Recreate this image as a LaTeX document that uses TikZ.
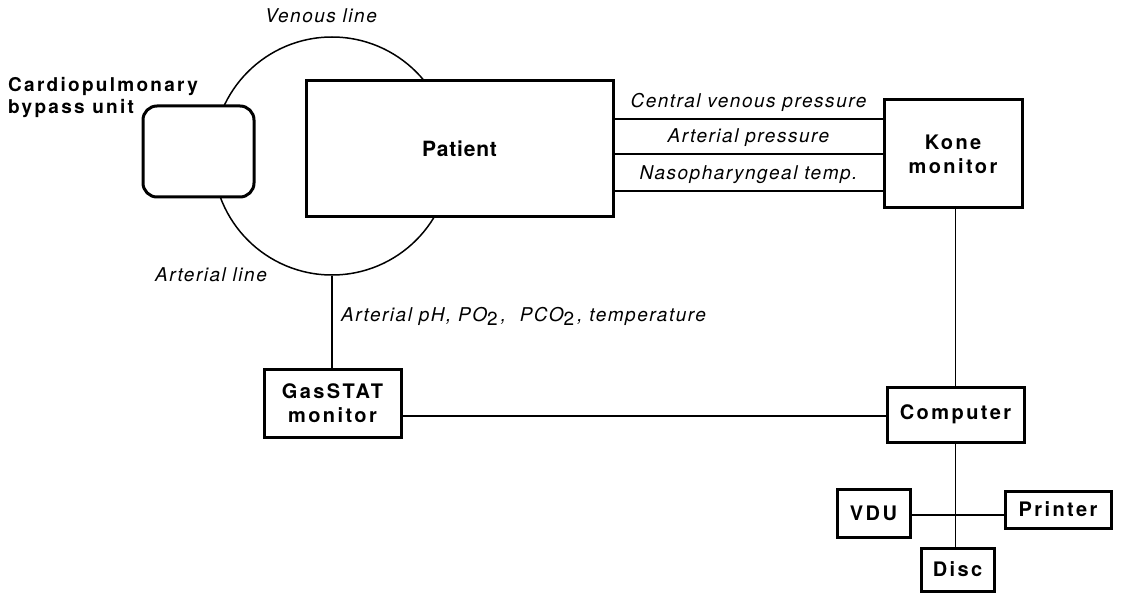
\documentclass[tikz,border=0pt]{standalone}
\usepackage{fontspec}
\setmainfont{TeX Gyre Heros}
\newfontfamily\itl[LetterSpace=8]{TeX Gyre Heros}
\newfontfamily\bfl[LetterSpace=12]{TeX Gyre Heros}
\newfontfamily\bfp[LetterSpace=4]{TeX Gyre Heros}
\begin{document}
\begin{tikzpicture}[x=1pt,y=-1pt,
  box/.style={draw,line width=3pt,fill=white,inner sep=0pt,font=\bfl\bfseries\fontsize{20}{24}\selectfont,align=center},
  conn/.style={line width=1.5pt},
  lab/.style={font=\itl\itshape\fontsize{19}{22}\selectfont,inner sep=0pt}]
\useasboundingbox (0,0) rectangle (1122,596);
% loop circle
\node[circle,draw,line width=1.5pt,minimum size=238pt,inner sep=0pt] (loop) at (332,156) {};
% boxes
\node[box,rounded corners=14pt,minimum width=111pt,minimum height=91pt] (cpb) at (198.5,151.5) {};
\node[box,minimum width=307pt,minimum height=136pt,font=\bfp\bfseries\fontsize{21}{25}\selectfont] (patient) at (459.5,149) {Patient};
\node[box,minimum width=138pt,minimum height=108pt] (kone) at (953,154) {Kone\\monitor};
\node[box,minimum width=137pt,minimum height=68pt] (gas) at (332.5,403) {GasSTAT\\monitor};
\node[box,minimum width=137pt,minimum height=55pt] (comp) at (955.5,414.5) {Computer};
\node[box,minimum width=73pt,minimum height=48pt] (vdu) at (873.5,513) {VDU};
\node[box,minimum width=106pt,minimum height=37pt] (printer) at (1058,509.5) {Printer};
\node[box,minimum width=73pt,minimum height=43pt] (disc) at (957.5,569.5) {Disc};
% texts
\node[lab] (venous) at (321,16) {Venous line};
\node[lab] (arterial) at (211,275) {Arterial line};
\node[font=\bfl\bfseries\fontsize{19}{22}\selectfont,align=left,anchor=north west,inner sep=0pt] (cpbl) at (8,77) {Cardiopulmonary\\bypass unit};
% patient to Kone lines
\coordinate (l1) at (0,119);
\coordinate (l2) at (0,154);
\coordinate (l3) at (0,191);
\draw[conn] (patient.east |- l1) -- node[lab,above=7pt] (cvp) {Central venous pressure} (kone.west |- l1);
\draw[conn] (patient.east |- l2) -- node[lab,above=7pt] (ap) {Arterial pressure} (kone.west |- l2);
\draw[conn] (patient.east |- l3) -- node[lab,above=7pt] (npt) {Nasopharyngeal temp.} (kone.west |- l3);
% loop to gas
\draw[conn] (loop.south) -- (loop.south |- gas.north);
\node[lab,anchor=west] (blood) at (341,316) {Arterial pH, PO\raisebox{-0.4ex}{\upshape 2}\,,\ \ PCO\raisebox{-0.4ex}{\upshape 2}\,, temperature};
% gas to computer
\coordinate (gy) at (0,416);
\draw[conn] (gas.east |- gy) -- (comp.west |- gy);
% Kone to computer
\draw[conn] (kone.south -| comp.north) -- (comp.north);
% computer to peripherals
\coordinate (cross) at (955,515);
\draw[conn] (comp.south) -- (comp.south |- disc.north);
\draw[conn] (vdu.east |- cross) -- (printer.west |- cross);
\end{tikzpicture}
\end{document}
